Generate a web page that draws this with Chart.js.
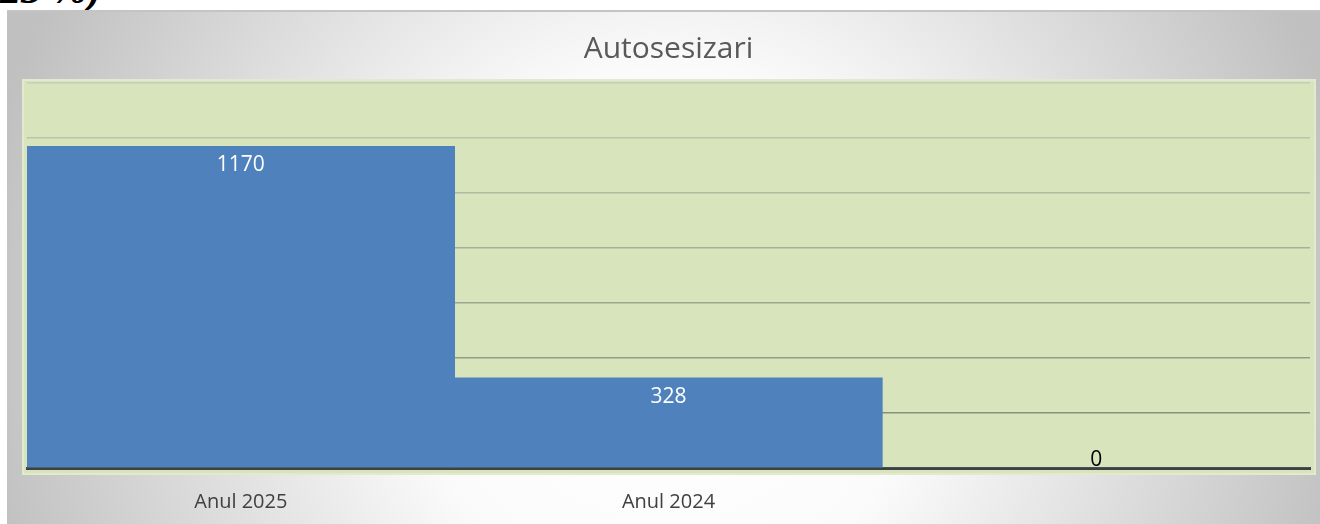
<!DOCTYPE html>
<html lang="ro">
<head>
<meta charset="utf-8">
<title>Autosesizari</title>
<script src="https://cdn.jsdelivr.net/npm/chart.js@4.4.1/dist/chart.umd.min.js"></script>
<style>
    html, body { margin: 0; padding: 0; background: #ffffff; width: 1320px; height: 524px; overflow: hidden; }
    .text-sus {
        position: absolute; left: 0; top: -32px;
        font-family: "Liberation Serif", serif; font-weight: bold; font-style: italic;
        font-size: 42px; line-height: 1; color: #000;
    }
    .cutie {
        position: absolute; left: 7px; top: 10px; width: 1313px; height: 514px;
        border-top: 2px solid #c4c4c4; box-sizing: border-box;
        background: radial-gradient(circle at 660px 320px, #ffffff 0px, #fbfbfb 260px, #c0c0c0 700px);
    }
</style>
</head>
<body>
<div class="text-sus">23 %)</div>
<div class="cutie"><canvas id="grafic"></canvas></div>

<script>
// Dades del gràfic
const categorii = ['Anul 2025', 'Anul 2024', ''];
const valori = [1170, 328, 0];
const titlu = 'Autosesizari';
const axaMin = 0;
const axaMax = 1400;
const pas = 200;

// Culoare liniilor de grilă: mai închise jos, mai deschise sus
function culoareGrila(index) {
    const jos = [138, 143, 126];
    const sus = [200, 204, 186];
    const t = Math.min(1, Math.max(0, (index - 1) / 6));
    const c = jos.map((v, k) => Math.round(v + (sus[k] - v) * t));
    return `rgb(${c[0]}, ${c[1]}, ${c[2]})`;
}

// Fundalul verde al zonei de desen
const fundalZona = {
    id: 'fundalZona',
    beforeDraw(chart) {
        const { ctx, chartArea: a } = chart;
        ctx.save();
        ctx.fillStyle = '#d8e4bc';
        ctx.fillRect(a.left - 4, a.top - 3, a.right - a.left + 9, a.bottom - a.top + 9);
        ctx.strokeStyle = '#e2eacd';
        ctx.lineWidth = 2;
        ctx.strokeRect(a.left - 4, a.top - 3, a.right - a.left + 9, a.bottom - a.top + 9);
        ctx.restore();
    }
};

// Etichetele valorilor pe bare
const eticheteValori = {
    id: 'eticheteValori',
    afterDatasetsDraw(chart) {
        const { ctx } = chart;
        const meta = chart.getDatasetMeta(0);
        ctx.save();
        ctx.font = '21px "Open Sans"';
        ctx.textAlign = 'center';
        ctx.textBaseline = 'middle';
        meta.data.forEach((bara, i) => {
            const v = valori[i];
            if (v > 0) {
                ctx.fillStyle = '#ffffff';
                ctx.fillText(String(v), bara.x, bara.y + 19);
            } else {
                ctx.fillStyle = '#000000';
                ctx.fillText(String(v), bara.x, bara.base - 8);
            }
        });
        ctx.restore();
    }
};

new Chart(document.getElementById('grafic').getContext('2d'), {
    type: 'bar',
    data: {
        labels: categorii,
        datasets: [{
            label: titlu,
            data: valori,
            backgroundColor: '#4f81bd',
            borderWidth: 0,
            categoryPercentage: 1,
            barPercentage: 1
        }]
    },
    options: {
        responsive: true,
        maintainAspectRatio: false,
        animation: false,
        layout: { padding: { left: 20, right: 10, top: 0, bottom: -12 } },
        plugins: {
            legend: { display: false },
            tooltip: { enabled: false },
            title: {
                display: true,
                text: titlu,
                color: '#595959',
                font: { family: '"Open Sans"', size: 30, weight: 'normal' },
                padding: { top: 19, bottom: 16 }
            }
        },
        scales: {
            x: {
                z: 1,
                grid: { display: false, drawTicks: false },
                border: { display: true, color: '#404040', width: 3 },
                ticks: {
                    color: '#404040',
                    padding: 22,
                    font: { family: '"Open Sans"', size: 20 }
                }
            },
            y: {
                min: axaMin,
                max: axaMax,
                grid: {
                    drawTicks: false,
                    lineWidth: 1.5,
                    color: (c) => culoareGrila(c.index)
                },
                border: { display: false },
                ticks: { display: false, stepSize: pas }
            }
        }
    },
    plugins: [fundalZona, eticheteValori]
});
</script>
</body>
</html>
